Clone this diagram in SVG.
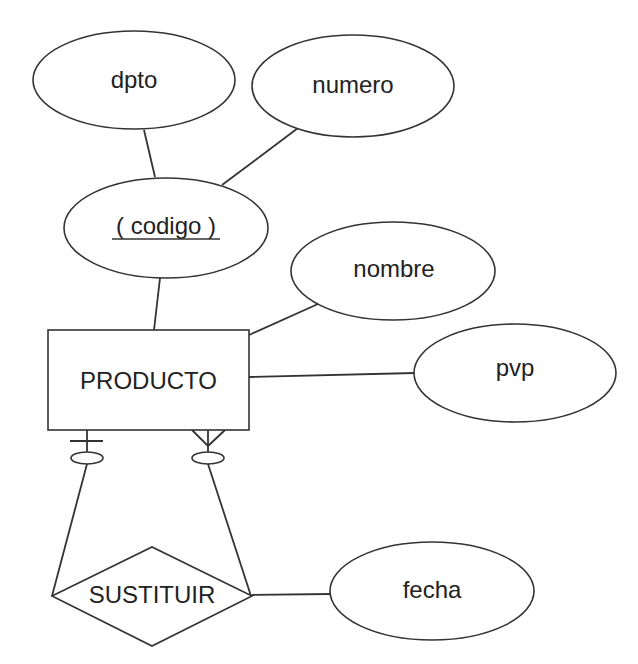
<svg xmlns="http://www.w3.org/2000/svg" width="638" height="664" viewBox="0 0 638 664">
<style>
.shape{fill:#fff;stroke:#333;stroke-width:1.6}
.ln{fill:none;stroke:#333;stroke-width:1.8}
.t{font-family:"Liberation Sans",Arial,sans-serif;font-size:24px;fill:#222;text-anchor:middle}
</style>
<rect width="638" height="664" fill="#fff"/>
<g id="connectors">
<line class="ln" x1="144" y1="130" x2="155" y2="177"/>
<line class="ln" x1="298" y1="128" x2="222" y2="185"/>
<line class="ln" x1="160" y1="278" x2="154" y2="330"/>
<line class="ln" x1="318" y1="304" x2="249" y2="335"/>
<line class="ln" x1="249" y1="377" x2="415" y2="373"/>
<line class="ln" x1="252" y1="595" x2="330" y2="594"/>
<line class="ln" x1="87" y1="430" x2="87" y2="452"/>
<line class="ln" x1="70" y1="441" x2="103" y2="441"/>
<ellipse class="shape" cx="87" cy="458" rx="16" ry="6"/>
<line class="ln" x1="87" y1="464" x2="52" y2="596"/>
<line class="ln" x1="192" y1="430" x2="208" y2="446"/>
<line class="ln" x1="225" y1="430" x2="208" y2="446"/>
<line class="ln" x1="208" y1="430" x2="208" y2="452"/>
<ellipse class="shape" cx="208" cy="458" rx="16" ry="6"/>
<line class="ln" x1="208" y1="464" x2="251" y2="596"/>
</g>
<g id="dpto">
<ellipse class="shape" cx="134" cy="80" rx="101" ry="49"/>
<text class="t" x="134" y="88">dpto</text>
</g>
<g id="numero">
<ellipse class="shape" cx="353" cy="86" rx="101" ry="51"/>
<text class="t" x="353" y="93">numero</text>
</g>
<g id="codigo">
<ellipse class="shape" cx="166" cy="228" rx="102" ry="50"/>
<text class="t" x="166" y="234">( codigo )</text>
<line x1="112" y1="239" x2="220" y2="239" stroke="#333" stroke-width="1.6"/>
</g>
<g id="nombre">
<ellipse class="shape" cx="393" cy="271" rx="102" ry="49"/>
<text class="t" x="394" y="277">nombre</text>
</g>
<g id="pvp">
<ellipse class="shape" cx="515" cy="373" rx="101" ry="49"/>
<text class="t" x="515" y="376">pvp</text>
</g>
<g id="producto">
<rect class="shape" x="48" y="330" width="201" height="100" stroke-width="1.8"/>
<text class="t" x="148.5" y="389">PRODUCTO</text>
</g>
<g id="sustituir">
<polygon class="shape" points="52,596 152,547 252,596 152,646"/>
<text class="t" x="152" y="603">SUSTITUIR</text>
</g>
<g id="fecha">
<ellipse class="shape" cx="432" cy="591" rx="102" ry="49"/>
<text class="t" x="432" y="598">fecha</text>
</g>
</svg>
